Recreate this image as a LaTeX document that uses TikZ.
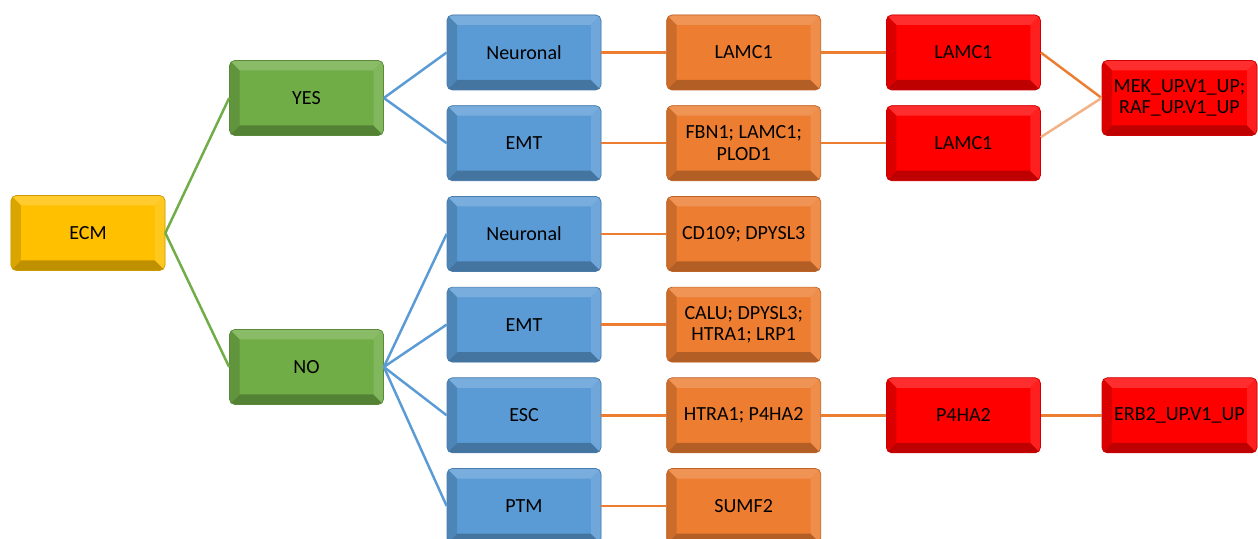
\documentclass[tikz,border=0pt]{standalone}
\usepackage{fontspec}
\setmainfont{Carlito}
\usepackage{tikz}
\usetikzlibrary{positioning,calc}

\definecolor{ecmyellow}{HTML}{FFC000}
\definecolor{tiergreen}{HTML}{70AD47}
\definecolor{typeblue}{HTML}{5B9BD5}
\definecolor{geneorange}{HTML}{ED7D31}
\definecolor{pathred}{HTML}{FF0000}
\definecolor{linkpeach}{HTML}{F4B183}

\newcommand{\bevw}{0.2cm}

\begin{document}
\begin{tikzpicture}[
  node distance=0.3cm and 1.3cm,
  bevelbox/.style={rectangle, rounded corners=3pt, minimum width=3.08cm, minimum height=1.5cm,
    inner sep=1pt, align=center, fill=#1, draw=#1!80!black, line width=0.4pt,
    font=\fontsize{11.4}{12.3}\selectfont, text=black,
    path picture={
      \begin{scope}[sharp corners]
      \coordinate (pnw) at (path picture bounding box.north west);
      \coordinate (pne) at (path picture bounding box.north east);
      \coordinate (psw) at (path picture bounding box.south west);
      \coordinate (pse) at (path picture bounding box.south east);
      \fill[#1!82!white] (pnw) -- (pne) -- ([shift={(-\bevw,-\bevw)}]pne) -- ([shift={(\bevw,-\bevw)}]pnw) -- cycle;
      \fill[#1!75!black] (psw) -- (pse) -- ([shift={(-\bevw,\bevw)}]pse) -- ([shift={(\bevw,\bevw)}]psw) -- cycle;
      \fill[#1!86!black] (pnw) -- (psw) -- ([shift={(\bevw,\bevw)}]psw) -- ([shift={(\bevw,-\bevw)}]pnw) -- cycle;
      \fill[#1!88!white] (pne) -- (pse) -- ([shift={(-\bevw,\bevw)}]pse) -- ([shift={(-\bevw,-\bevw)}]pne) -- cycle;
      \end{scope}
    }},
  link/.style={line width=1.4pt}
]
  \fill[white] (0,0) rectangle (25.16,-10.78);
  \useasboundingbox (0,0) rectangle (25.16,-10.78);

  % Root and yes/no split
  \node[bevelbox=ecmyellow] (ecm) at (1.76,-4.66) {ECM};
  \node[bevelbox=tiergreen] (yes) at (6.13,-1.96) {YES};
  \node[bevelbox=tiergreen] (no) at (6.13,-7.34) {NO};

  % Cell types (blue)
  \node[bevelbox=typeblue] (yneu) at (10.48,-1.05) {Neuronal};
  \node[bevelbox=typeblue, below=of yneu] (yemt) {EMT};
  \node[bevelbox=typeblue, below=of yemt] (nneu) {Neuronal};
  \node[bevelbox=typeblue, below=of nneu] (nemt) {EMT};
  \node[bevelbox=typeblue, below=of nemt] (nesc) {ESC};
  \node[bevelbox=typeblue, below=of nesc] (nptm) {PTM};

  % Genes (orange)
  \node[bevelbox=geneorange, right=of yneu] (glamc) {LAMC1};
  \node[bevelbox=geneorange, right=of yemt] (gfbn) {FBN1; LAMC1;\\PLOD1};
  \node[bevelbox=geneorange, right=of nneu] (gcd) {CD109; DPYSL3};
  \node[bevelbox=geneorange, right=of nemt] (gcalu) {CALU; DPYSL3;\\HTRA1; LRP1};
  \node[bevelbox=geneorange, right=of nesc] (ghtra) {HTRA1; P4HA2};
  \node[bevelbox=geneorange, right=of nptm] (gsumf) {SUMF2};

  % Hits and pathways (red)
  \node[bevelbox=pathred, right=of glamc] (rlamc) {LAMC1};
  \node[bevelbox=pathred, right=of gfbn] (rlamcb) {LAMC1};
  \node[bevelbox=pathred, right=of ghtra] (rp4ha) {P4HA2};
  \node[bevelbox=pathred, minimum width=3.1cm] (mek) at (23.59,-1.96) {MEK\_UP.V1\_UP;\\RAF\_UP.V1\_UP};
  \node[bevelbox=pathred, minimum width=3.1cm] (erb) at (mek |- rp4ha) {ERB2\_UP.V1\_UP};

  % Connectors
  \path[link, tiergreen]
    (ecm.east) edge (yes.west)
    (ecm.east) edge (no.west);
  \path[link, typeblue]
    (yes.east) edge (yneu.west)
    (yes.east) edge (yemt.west)
    (no.east) edge (nneu.west)
    (no.east) edge (nemt.west)
    (no.east) edge (nesc.west)
    (no.east) edge (nptm.west);
  \path[link, geneorange]
    (yneu) edge (glamc)
    (yemt) edge (gfbn)
    (nneu) edge (gcd)
    (nemt) edge (gcalu)
    (nesc) edge (ghtra)
    (nptm) edge (gsumf)
    (glamc) edge (rlamc)
    (gfbn) edge (rlamcb)
    (ghtra) edge (rp4ha)
    (rp4ha) edge (erb)
    (rlamc.east) edge (mek.west);
  \draw[link, linkpeach] ([yshift=0.12cm]rlamcb.east) -- (mek.west);
\end{tikzpicture}
\end{document}
